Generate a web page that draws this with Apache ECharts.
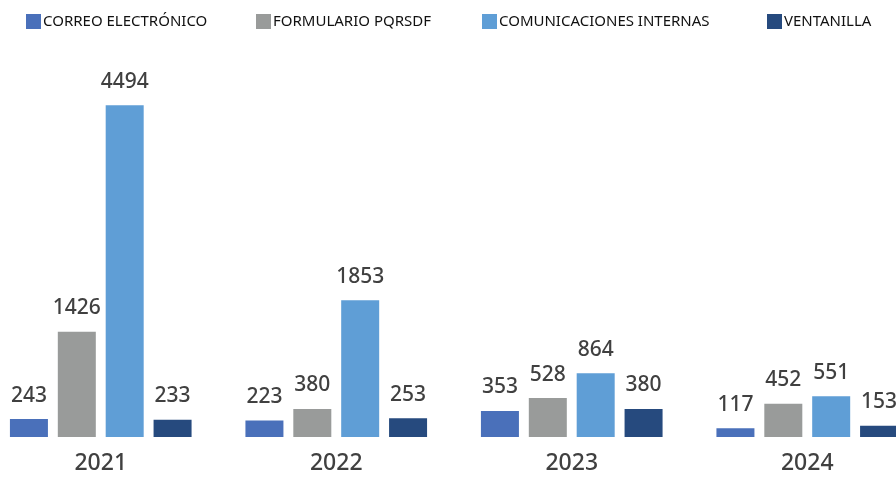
<!DOCTYPE html>
<html><head><meta charset="utf-8">
<script src="https://cdn.jsdelivr.net/npm/echarts@6/dist/echarts.min.js"></script>
<style>html,body{margin:0;padding:0;background:#fff;overflow:hidden;width:896px;height:477px}#c{width:942px;height:477px;margin-left:-17px}</style>
</head><body><div id="c"></div>
<script>
const categories = ['2021', '2022', '2023', '2024'];
const seriesNames = ['CORREO ELECTRÓNICO', 'FORMULARIO PQRSDF', 'COMUNICACIONES INTERNAS', 'VENTANILLA'];
const correo = [243, 223, 353, 117];
const formulario = [1426, 380, 528, 452];
const comunicaciones = [4494, 1853, 864, 551];
const ventanilla = [233, 253, 380, 153];
const colors = ['#4A70BA', '#999B9A', '#5F9ED6', '#264A7E'];
const values = [correo, formulario, comunicaciones, ventanilla];
const legendLefts = [26 + 17, 256 + 17, 482 + 17, 767 + 17];

const chart = echarts.init(document.getElementById('c'));
chart.setOption({
  animation: false,
  grid: { left: 0, right: 0, top: 68, bottom: 40 },
  xAxis: {
    type: 'category', data: categories,
    axisLine: { show: false }, axisTick: { show: false },
    axisLabel: { fontFamily: 'Noto Sans', fontSize: 23, fontWeight: 500, color: '#404040', margin: 15 }
  },
  yAxis: { type: 'value', min: 0, max: 5000, show: false, splitLine: { show: false } },
  legend: seriesNames.map((n, i) => ({
    data: [n], left: legendLefts[i], top: 14, itemWidth: 15, itemHeight: 15, itemGap: 0, padding: 0,
    icon: 'rect',
    textStyle: { fontFamily: 'Noto Sans', fontSize: 15, color: '#111', padding: [0, 0, 0, -3] }
  })),
  series: seriesNames.map((n, i) => ({
    name: n, type: 'bar', data: values[i], barWidth: 38, barGap: '26%',
    itemStyle: { color: colors[i] },
    label: { show: true, position: 'top', distance: 13, fontFamily: 'Noto Sans', fontSize: 21, fontWeight: 500, color: '#404040' }
  }))
});
</script></body></html>
